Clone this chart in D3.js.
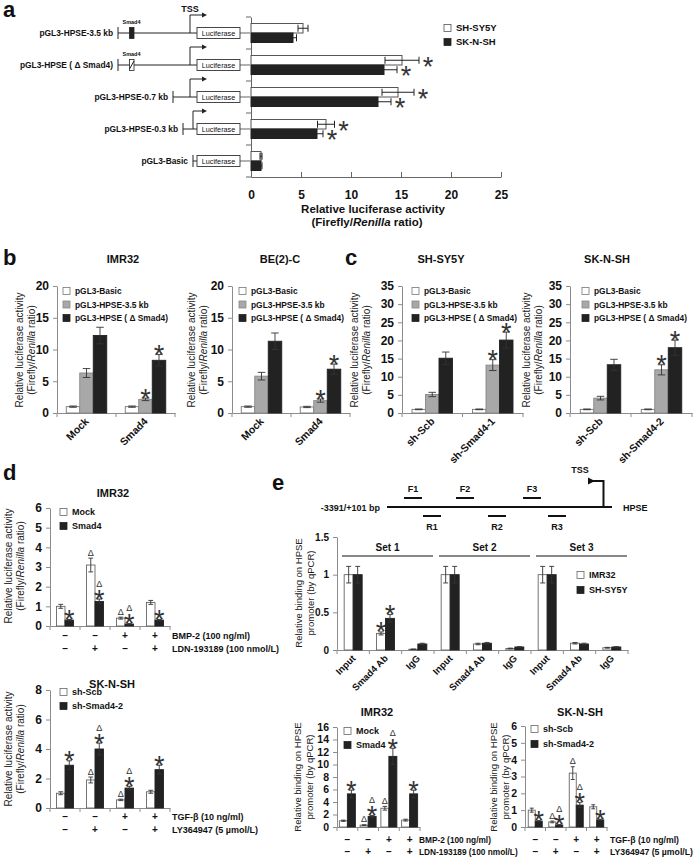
<!DOCTYPE html>
<html>
<head>
<meta charset="utf-8">
<script src="https://cdn.jsdelivr.net/npm/d3@7"></script>
<style>
  body { margin: 0; background: #fff; }
</style>
</head>
<body>
<div id="fig"></div>
<script>
const FONT = '"Liberation Sans", Arial, sans-serif';
const WHITE = "#ffffff", GRAY = "#a8a8a8", BLACK = "#222222";
const AXIS = "#8c8c8c", INK = "#111111";

// ---------- panel a : promoter constructs ----------
const aConstructs = ["pGL3-HPSE-3.5 kb", "pGL3-HPSE ( \u0394 Smad4)", "pGL3-HPSE-0.7 kb", "pGL3-HPSE-0.3 kb", "pGL3-Basic"];
const aShsy5y    = [5.2, 15.1, 14.7, 7.5, 1.0];
const aShsy5yErr = [0.5, 1.7, 1.6, 0.85, 0.1];
const aSknsh     = [4.2, 13.3, 12.7, 6.6, 1.0];
const aSknshErr  = [0.35, 1.3, 1.3, 0.6, 0.1];
const aSig       = ["", "*", "*", "*", ""];
const aTicks     = [0, 5, 10, 15, 20, 25];

// ---------- panel b ----------
const bCats = ["Mock", "Smad4"];
const bSeriesNames = ["pGL3-Basic", "pGL3-HPSE-3.5 kb", "pGL3-HPSE ( \u0394 Smad4)"];
const bImrBasic = [1.0, 1.0],  bImrBasicErr = [0.1, 0.1];
const bImr35    = [6.3, 2.15], bImr35Err    = [0.7, 0.2];
const bImrDel   = [12.2, 8.3], bImrDelErr   = [1.3, 0.9];
const bBeBasic  = [1.0, 0.95], bBeBasicErr  = [0.1, 0.1];
const bBe35     = [5.8, 1.95], bBe35Err     = [0.6, 0.25];
const bBeDel    = [11.3, 6.9], bBeDelErr    = [1.3, 0.8];
const bTicks = [0, 5, 10, 15, 20];

// ---------- panel c ----------
const cCatsSh = ["sh-Scb", "sh-Smad4-1"];
const cCatsSk = ["sh-Scb", "sh-Smad4-2"];
const cShBasic = [1.0, 1.0],   cShBasicErr = [0.1, 0.1];
const cSh35    = [5.1, 13.2],  cSh35Err    = [0.6, 1.5];
const cShDel   = [15.1, 20.1], cShDelErr   = [1.7, 2.2];
const cSkBasic = [1.0, 1.0],   cSkBasicErr = [0.1, 0.1];
const cSk35    = [4.1, 11.9],  cSk35Err    = [0.5, 1.4];
const cSkDel   = [13.3, 18.0], cSkDelErr   = [1.5, 2.1];
const cTicks = [0, 5, 10, 15, 20, 25, 30, 35];

// ---------- panel d ----------
const dRow1 = ["\u2013", "\u2013", "+", "+"];
const dRow2 = ["\u2013", "+", "\u2013", "+"];
const dImrMock  = [1.0, 3.1, 0.4, 1.2],   dImrMockErr  = [0.1, 0.35, 0.05, 0.1];
const dImrSmad4 = [0.3, 1.25, 0.1, 0.3],  dImrSmad4Err = [0.03, 0.12, 0.02, 0.03];
const dSkScb    = [1.0, 1.9, 0.55, 1.1],  dSkScbErr    = [0.1, 0.2, 0.05, 0.1];
const dSkSmad4  = [2.9, 4.0, 1.35, 2.6],  dSkSmad4Err  = [0.3, 0.4, 0.12, 0.3];
const ctrlMarks = ["", "\u0394", "\u0394", ""];
const trtMarks  = ["*", "\u0394*", "\u0394*", "*"];
const dImrTicks = [0, 1, 2, 3, 4, 5, 6];
const dSkTicks  = [0, 2, 4, 6, 8];

// ---------- panel e ----------
const eSets = ["Set 1", "Set 2", "Set 3"];
const eCats = ["Input", "Smad4 Ab", "IgG", "Input", "Smad4 Ab", "IgG", "Input", "Smad4 Ab", "IgG"];
const eImr32    = [1.0, 0.22, 0.01, 1.0, 0.08, 0.02, 1.0, 0.09, 0.03];
const eImr32Err = [0.11, 0.02, 0.003, 0.11, 0.01, 0.005, 0.11, 0.01, 0.005];
const eShsy5y    = [1.0, 0.42, 0.08, 1.0, 0.09, 0.04, 1.0, 0.08, 0.04];
const eShsy5yErr = [0.11, 0.05, 0.01, 0.11, 0.01, 0.005, 0.11, 0.01, 0.005];
const eImrMarks = ["", "*", "", "", "", "", "", "", ""];
const eTicks = [0, 0.5, 1, 1.5];
const ePrimers = ["F1", "F2", "F3"];
const eReverse = ["R1", "R2", "R3"];
const eImrMock  = [1.0, 0.3, 3.0, 1.1],   eImrMockErr  = [0.1, 0.05, 0.3, 0.15];
const eImrSmad4 = [5.3, 1.7, 11.3, 5.3],  eImrSmad4Err = [0.6, 0.15, 1.3, 0.6];
const eSkScb    = [1.0, 0.3, 3.2, 1.2],   eSkScbErr    = [0.12, 0.05, 0.38, 0.12];
const eSkSmad4  = [0.35, 0.12, 1.3, 0.42], eSkSmad4Err = [0.03, 0.02, 0.15, 0.04];
const eImrTicks = [0, 2, 4, 6, 8, 10, 12, 14, 16];
const eSkTicks  = [0, 1, 2, 3, 4, 5, 6];

const svg = d3.select("#fig").append("svg")
    .attr("width", 700).attr("height", 858)
    .attr("font-family", FONT);
svg.append("rect").attr("width", 700).attr("height", 858).attr("fill", "#fff");

function txt(g, x, y, s, size, anchor = "start", weight = "bold") {
  return g.append("text").attr("x", x).attr("y", y)
      .attr("font-family", FONT)
      .attr("font-size", size).attr("font-weight", weight)
      .attr("text-anchor", anchor).attr("fill", INK).text(s);
}

function star(g, cx, baseline) {
  g.append("text").attr("x", cx).attr("y", baseline).attr("text-anchor", "middle")
      .attr("font-family", FONT).attr("font-size", 27).attr("font-weight", "normal")
      .attr("fill", "#333").text("*");
}

// asterisks / triangles stacked upward from "top"
function marks(g, cx, top, m) {
  let cur = top;
  m.split("").reverse().forEach(ch => {
    if (ch === "*") {
      star(g, cx, cur + 11.5);
      cur -= 10;
    } else {
      g.append("text").attr("x", cx).attr("y", cur - 0.5).attr("text-anchor", "middle")
          .attr("font-family", FONT).attr("font-size", 9).attr("fill", "#333").text("\u0394");
      cur -= 8;
    }
  });
}

function yLabel(g, x, yc, lines, size) {
  lines.forEach((ln, i) => {
    const t = g.append("text").attr("transform", `translate(${x + i * 12},${yc}) rotate(-90)`)
        .attr("text-anchor", "middle").attr("font-size", size).attr("fill", "#222");
    ln.forEach(part => t.append("tspan").attr("font-style", part.it ? "italic" : "normal").text(part.s));
  });
}

function legend(g, x, y0, dy, items, size) {
  items.forEach((it, i) => {
    g.append("rect").attr("x", x).attr("y", y0 + i * dy - 3.5).attr("width", 7).attr("height", 7)
        .attr("fill", it.fill).attr("stroke", it.stroke).attr("stroke-width", 0.8);
    txt(g, x + 12, y0 + i * dy + 3.3, it.name, size);
  });
}

// generic vertical grouped-bar chart
function vChart(o) {
  const g = svg.append("g");
  const n = o.cats.length;
  const x = d3.scaleBand().domain(d3.range(n)).range([o.x0, o.x1]);
  const y = d3.scaleLinear().domain([0, o.yMax]).range([o.yB, o.yT]);

  const ya = g.append("g").attr("transform", `translate(${o.x0},0)`)
      .call(d3.axisLeft(y).tickValues(o.ticks).tickSizeInner(4).tickSizeOuter(0)
            .tickPadding(4).tickFormat(d3.format("")));
  ya.select(".domain").attr("stroke", AXIS);
  ya.selectAll(".tick line").attr("stroke", AXIS);
  ya.selectAll(".tick text").attr("font-size", o.tickFont).attr("font-weight", "bold")
      .attr("fill", INK).attr("font-family", FONT);

  const xa = g.append("g").attr("transform", `translate(0,${o.yB})`)
      .call(d3.axisBottom(x).tickSize(0).tickFormat(""));
  xa.select(".domain").attr("stroke", AXIS);
  g.selectAll(null).data(d3.range(n + 1)).join("line")
      .attr("x1", i => i < n ? x(i) : o.x1).attr("x2", i => i < n ? x(i) : o.x1)
      .attr("y1", o.yB).attr("y2", o.yB + 4).attr("stroke", AXIS);

  const ns = o.series.length;
  o.series.forEach((s, si) => {
    const cx = i => x(i) + x.bandwidth() / 2 + (si - (ns - 1) / 2) * o.bw;
    g.selectAll(null).data(s.v).join("rect")
        .attr("x", (d, i) => cx(i) - o.bw / 2).attr("y", d => y(d))
        .attr("width", o.bw).attr("height", d => y(0) - y(d))
        .attr("fill", s.fill).attr("stroke", s.stroke).attr("stroke-width", 0.9);
    s.v.forEach((v, i) => {
      const e = s.e[i], cap = o.bw * 0.28;
      g.append("line").attr("x1", cx(i)).attr("x2", cx(i)).attr("y1", y(Math.max(v - e, 0))).attr("y2", y(v + e))
          .attr("stroke", "#333").attr("stroke-width", 0.9);
      [v - e, v + e].forEach(t => g.append("line").attr("x1", cx(i) - cap).attr("x2", cx(i) + cap)
          .attr("y1", y(Math.max(t, 0))).attr("y2", y(Math.max(t, 0))).attr("stroke", "#333").attr("stroke-width", 0.9));
      if (s.m && s.m[i]) marks(g, cx(i), y(v + e) - 2, s.m[i]);
    });
  });

  if (o.title) txt(g, o.title[0], o.title[1], o.title[2], o.titleFont || 11, "middle");
  if (o.ylab) yLabel(g, o.ylab.x, o.ylab.yc, o.ylab.lines, o.ylab.size);
  if (o.legend) legend(g, o.legend.x, o.legend.y, o.legend.dy,
      o.series.map(s => ({ name: s.name, fill: s.fill, stroke: s.stroke })), o.legend.size);
  if (o.xlab) {
    o.cats.forEach((c, i) => {
      g.append("text")
          .attr("transform", `translate(${x(i) + x.bandwidth() / 2 + 3},${o.yB + 9}) rotate(-45)`)
          .attr("text-anchor", "end").attr("font-size", o.xlab).attr("font-weight", "bold")
          .attr("fill", INK).text(c);
    });
  }
  if (o.signs) {
    o.signs.rows.forEach((row, r) => {
      row.forEach((s, i) => txt(g, x(i) + x.bandwidth() / 2, o.signs.y[r] + 3.5, s, 10, "middle"));
      txt(g, o.signs.lx, o.signs.y[r] + 3.5, o.signs.labels[r], o.signs.size);
    });
  }
  return { g, x, y };
}

const ylabLuc = [[{ s: "Relative luciferase activity" }],
                 [{ s: "(Firefly/" }, { s: "Renilla", it: true }, { s: " ratio)" }]];
const ylabBind = [[{ s: "Relative binding on HPSE" }], [{ s: "promoter (by qPCR)" }]];

// ---------- panel letters ----------
[["a", 3, 17], ["b", 3, 265], ["c", 345, 265], ["d", 3, 480], ["e", 272, 490]]
  .forEach(([s, x, y]) => txt(svg, x, y, s, 22, "start", "900"));

// ---------- panel a ----------
{
  const g = svg.append("g");
  const xa = d3.scaleLinear().domain([0, 25]).range([251, 501]);
  const ya = d3.scaleBand().domain(aConstructs).range([17, 177]);
  const bh = 9.5;

  const ax = g.append("g").attr("transform", "translate(0,177)")
      .call(d3.axisBottom(xa).tickValues(aTicks).tickSizeInner(-5).tickSizeOuter(0).tickPadding(13));
  ax.select(".domain").attr("stroke", "#666");
  ax.selectAll(".tick line").attr("stroke", "#666");
  ax.selectAll(".tick text").attr("font-size", 12).attr("font-weight", "bold").attr("fill", INK).attr("font-family", FONT);
  const ay = g.append("g").attr("transform", "translate(251,0)")
      .call(d3.axisLeft(ya).tickSize(0).tickFormat(""));
  ay.select(".domain").attr("stroke", "#666");
  g.selectAll(null).data(d3.range(aConstructs.length + 1)).join("line")
      .attr("x1", 246).attr("x2", 251)
      .attr("y1", i => i < aConstructs.length ? ya(aConstructs[i]) : 177)
      .attr("y2", i => i < aConstructs.length ? ya(aConstructs[i]) : 177).attr("stroke", "#666");

  txt(g, 373, 213, "Relative luciferase activity", 11.5, "middle");
  const t2 = g.append("text").attr("x", 367).attr("y", 226).attr("text-anchor", "middle")
      .attr("font-size", 11.5).attr("font-weight", "bold").attr("fill", INK);
  t2.append("tspan").text("(Firefly/");
  t2.append("tspan").attr("font-style", "italic").text("Renilla");
  t2.append("tspan").text(" ratio)");

  const series = [
    { v: aShsy5y, e: aShsy5yErr, fill: WHITE, stroke: "#555", off: -bh, name: "SH-SY5Y" },
    { v: aSknsh, e: aSknshErr, fill: BLACK, stroke: BLACK, off: 0, name: "SK-N-SH" }
  ];
  series.forEach(s => {
    const cy = (d, i) => ya(aConstructs[i]) + ya.bandwidth() / 2 + s.off;
    g.selectAll(null).data(s.v).join("rect")
        .attr("x", xa(0)).attr("y", cy).attr("width", d => xa(d) - xa(0)).attr("height", bh)
        .attr("fill", s.fill).attr("stroke", s.stroke).attr("stroke-width", 1);
    s.v.forEach((v, i) => {
      const yc = cy(v, i) + bh / 2, e = s.e[i];
      g.append("line").attr("x1", xa(v - e)).attr("x2", xa(v + e)).attr("y1", yc).attr("y2", yc).attr("stroke", "#222");
      [v - e, v + e].forEach(t => g.append("line").attr("x1", xa(t)).attr("x2", xa(t))
          .attr("y1", yc - 3.5).attr("y2", yc + 3.5).attr("stroke", "#222"));
      if (aSig[i]) star(g, xa(v + e) + 9, yc + 15.5);
    });
  });
  legend(g, 444, 28, 14, series, 9.5);

  // construct diagrams
  const startX = [118, 118, 173, 183, 193];
  aConstructs.forEach((c, i) => {
    const cy = ya(c) + ya.bandwidth() / 2;
    txt(g, startX[i] - 5, cy + 3.2, c, 8.4, "end");
    g.append("line").attr("x1", startX[i]).attr("x2", startX[i]).attr("y1", cy - 6).attr("y2", cy + 6).attr("stroke", "#222");
    g.append("line").attr("x1", startX[i]).attr("x2", 197).attr("y1", cy).attr("y2", cy).attr("stroke", "#222");
    g.append("line").attr("x1", 240).attr("x2", 251).attr("y1", cy).attr("y2", cy).attr("stroke", "#999").attr("stroke-width", 1.5);
    g.append("rect").attr("x", 197).attr("y", cy - 5.5).attr("width", 43).attr("height", 11)
        .attr("fill", "#fff").attr("stroke", "#333").attr("stroke-width", 0.9);
    txt(g, 218.5, cy + 2.6, "Luciferase", 7.3, "middle", "normal");
    if (i < 4) {
      const tx = i === 3 ? 193 : 190;
      g.append("path").attr("d", `M${tx},${cy} V${cy - 18} H${203}`).attr("fill", "none").attr("stroke", "#222");
      g.append("path").attr("d", `M${207},${cy - 18} l-5,-2.5 v5 z`).attr("fill", "#222");
    }
    if (i < 2) {
      g.append("rect").attr("x", 129.5).attr("y", cy - 5.5).attr("width", 4.5).attr("height", 11)
          .attr("fill", i === 0 ? BLACK : "#fff").attr("stroke", "#222").attr("stroke-width", 0.8);
      if (i === 1) g.append("line").attr("x1", 129.5).attr("x2", 134).attr("y1", cy + 4).attr("y2", cy - 4).attr("stroke", "#222");
      txt(g, 131.5, cy - 9, "Smad4", 5.5, "middle");
    }
  });
  txt(g, 190, 12, "TSS", 9, "middle");
}

// ---------- panel b ----------
const bColors = [{ fill: WHITE, stroke: "#777" }, { fill: GRAY, stroke: "#888" }, { fill: BLACK, stroke: BLACK }];
const bMarks = [["", ""], ["", "*"], ["", "*"]];
function bcChart(x0, x1, yMax, ticks, cats, vals, errs, title, ylx, legx) {
  return vChart({
    x0, x1, yB: 413, yT: 286, yMax, ticks, tickFont: 12, bw: 13.5, cats,
    series: vals.map((v, k) => ({ v, e: errs[k], m: bMarks[k], name: bSeriesNames[k], ...bColors[k] })),
    title, ylab: { x: ylx, yc: 350, lines: ylabLuc, size: 10 },
    legend: { x: legx, y: 291, dy: 13.5, size: 8.4 }, xlab: 10.5
  });
}
bcChart(57, 175, 20, bTicks, bCats, [bImrBasic, bImr35, bImrDel], [bImrBasicErr, bImr35Err, bImrDelErr],
  [123, 263, "IMR32"], 23, 63);
bcChart(232, 350, 20, bTicks, bCats, [bBeBasic, bBe35, bBeDel], [bBeBasicErr, bBe35Err, bBeDelErr],
  [280, 263, "BE(2)-C"], 195, 239);

// ---------- panel c ----------
bcChart(402, 523, 35, cTicks, cCatsSh, [cShBasic, cSh35, cShDel], [cShBasicErr, cSh35Err, cShDelErr],
  [441, 263, "SH-SY5Y"], 358, 412);
bcChart(570, 692, 35, cTicks, cCatsSk, [cSkBasic, cSk35, cSkDel], [cSkBasicErr, cSk35Err, cSkDelErr],
  [607, 263, "SK-N-SH"], 530, 582);

// ---------- panel d ----------
vChart({
  x0: 50, x1: 170, yB: 626, yT: 508, yMax: 6, ticks: dImrTicks, tickFont: 12, bw: 8.5, cats: dRow1,
  series: [
    { v: dImrMock, e: dImrMockErr, m: ctrlMarks, name: "Mock", fill: WHITE, stroke: "#666" },
    { v: dImrSmad4, e: dImrSmad4Err, m: trtMarks, name: "Smad4", fill: BLACK, stroke: BLACK }],
  title: [113, 497, "IMR32"], ylab: { x: 12, yc: 566, lines: ylabLuc, size: 10 },
  legend: { x: 60, y: 512, dy: 14, size: 9 },
  signs: { rows: [dRow1, dRow2], y: [635, 648], lx: 172, size: 9,
           labels: ["BMP-2 (100 ng/ml)", "LDN-193189 (100 nmol/L)"] }
});
vChart({
  x0: 50, x1: 170, yB: 808, yT: 690, yMax: 8, ticks: dSkTicks, tickFont: 12, bw: 8.5, cats: dRow1,
  series: [
    { v: dSkScb, e: dSkScbErr, m: ctrlMarks, name: "sh-Scb", fill: WHITE, stroke: "#666" },
    { v: dSkSmad4, e: dSkSmad4Err, m: trtMarks, name: "sh-Smad4-2", fill: BLACK, stroke: BLACK }],
  title: [112, 688, "SK-N-SH"], ylab: { x: 12, yc: 749, lines: ylabLuc, size: 10 },
  legend: { x: 60, y: 692, dy: 14, size: 9 },
  signs: { rows: [dRow1, dRow2], y: [816, 829], lx: 172, size: 9,
           labels: ["TGF-\u03b2  (10 ng/ml)", "LY364947  (5 \u00b5mol/L)"] }
});

// ---------- panel e : promoter map ----------
{
  const g = svg.append("g");
  const map = d3.scaleLinear().domain([-3391, 101]).range([387, 612]);
  const lineAt = (x1, x2, y) => g.append("line").attr("x1", x1).attr("x2", x2).attr("y1", y).attr("y2", y)
      .attr("stroke", "#111").attr("stroke-width", 2);
  lineAt(map(-3391), map(101), 507);
  g.append("path").attr("d", `M${map(0) - 2},507 V481 H589`).attr("fill", "none").attr("stroke", "#111").attr("stroke-width", 2);
  g.append("path").attr("d", "M595,481 l-7,-3.5 v7 z").attr("fill", "#111");
  txt(g, 580, 473, "TSS", 9, "middle");
  txt(g, 380, 511, "-3391/+101 bp", 9, "end");
  txt(g, 623, 511, "HPSE", 9, "start");
  const fX = [404, 456, 523], rX = [423, 488, 548];
  ePrimers.forEach((p, i) => { lineAt(fX[i], fX[i] + 18, 498); txt(g, fX[i] + 9, 492, p, 9, "middle"); });
  eReverse.forEach((p, i) => { lineAt(rX[i], rX[i] + 18, 516); txt(g, rX[i] + 9, 530, p, 9, "middle"); });
}

// ---------- panel e : ChIP ----------
{
  const c = vChart({
    x0: 337, x1: 628, yB: 650, yT: 537, yMax: 1.5, ticks: eTicks, tickFont: 10, bw: 9, cats: eCats,
    series: [
      { v: eImr32, e: eImr32Err, m: eImrMarks, name: "IMR32", fill: WHITE, stroke: "#666" },
      { v: eShsy5y, e: eShsy5yErr, m: eImrMarks, name: "SH-SY5Y", fill: BLACK, stroke: BLACK }],
    ylab: { x: 302, yc: 593, lines: ylabBind, size: 9.5 },
    legend: { x: 577, y: 575, dy: 15, size: 9 }, xlab: 9.5
  });
  eSets.forEach((s, i) => {
    const xa = c.x(i * 3) + 5, xb = c.x(i * 3 + 2) + c.x.bandwidth() - 1;
    c.g.append("line").attr("x1", xa).attr("x2", xb).attr("y1", 556).attr("y2", 556).attr("stroke", "#111").attr("stroke-width", 1.2);
    txt(c.g, (xa + xb) / 2, 551, s, 10, "middle");
  });
}

// ---------- panel e : bottom ----------
vChart({
  x0: 337, x1: 420, yB: 827, yT: 727, yMax: 16, ticks: eImrTicks, tickFont: 10.5, bw: 8, cats: dRow1,
  series: [
    { v: eImrMock, e: eImrMockErr, m: ctrlMarks, name: "Mock", fill: WHITE, stroke: "#666" },
    { v: eImrSmad4, e: eImrSmad4Err, m: trtMarks, name: "Smad4", fill: BLACK, stroke: BLACK }],
  title: [377, 716, "IMR32"], ylab: { x: 301, yc: 777, lines: ylabBind, size: 9.5 },
  legend: { x: 344, y: 731, dy: 14, size: 9 },
  signs: { rows: [dRow1, dRow2], y: [839, 851], lx: 419, size: 8.3,
           labels: ["BMP-2 (100 ng/ml)", "LDN-193189 (100 nmol/L)"] }
});
vChart({
  x0: 525, x1: 607, yB: 827, yT: 726, yMax: 6, ticks: eSkTicks, tickFont: 10.5, bw: 7, cats: dRow1,
  series: [
    { v: eSkScb, e: eSkScbErr, m: ctrlMarks, name: "sh-Scb", fill: WHITE, stroke: "#666" },
    { v: eSkSmad4, e: eSkSmad4Err, m: trtMarks, name: "sh-Smad4-2", fill: BLACK, stroke: BLACK }],
  title: [580, 716, "SK-N-SH"], ylab: { x: 497, yc: 777, lines: ylabBind, size: 9.5 },
  legend: { x: 531, y: 729, dy: 15, size: 9 },
  signs: { rows: [dRow1, dRow2], y: [839, 851], lx: 610, size: 8.7,
           labels: ["TGF-\u03b2 (10 ng/ml)", "LY364947 (5 \u00b5mol/L)"] }
});
</script>
</body>
</html>
